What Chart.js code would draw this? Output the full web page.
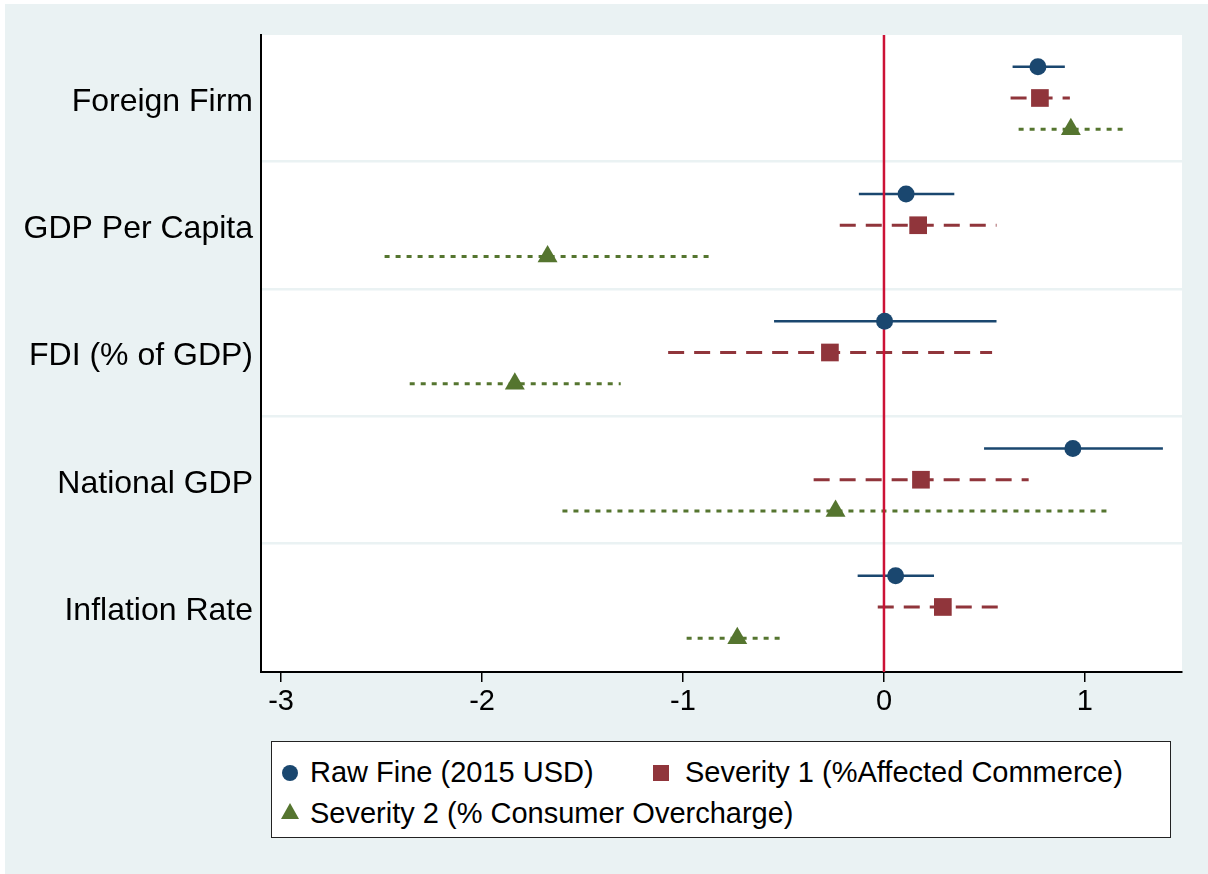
<!DOCTYPE html>
<html lang="en">
<head>
<meta charset="UTF-8">
<title>Coefficient plot</title>
<script src="https://cdn.jsdelivr.net/npm/chart.js"></script>
<style>
  html, body { margin: 0; padding: 0; background: #fff; }
  #wrap { position: relative; width: 1208px; height: 874px; font-family: "Liberation Sans", Arial, Helvetica, sans-serif; }
  #chart { position: absolute; left: 0; top: 0; }
  #legend { position: absolute; left: 271px; top: 741px; width: 900px; height: 97px; box-sizing: border-box;
            border: 1.5px solid #222; background: #fff; }
  .lbl { position: absolute; font-size: 29px; line-height: 34px; color: #000; white-space: nowrap; }
  .mk { position: absolute; }
</style>
</head>
<body>
<div id="wrap">
  <canvas id="chart" width="1208" height="874"></canvas>
  <div id="legend"></div>
</div>

<script>
// categories, top to bottom
const categories = ['Foreign Firm', 'GDP Per Capita', 'FDI (% of GDP)', 'National GDP', 'Inflation Rate'];
const rowPos = [5, 4, 3, 2, 1];
const xTicks = [-3, -2, -1, 0, 1];

const seriesNames = ['Raw Fine (2015 USD)', 'Severity 1 (%Affected Commerce)', 'Severity 2 (% Consumer Overcharge)'];

// point estimates and confidence bounds
const rawFine   = [0.766, 0.11, 0.003, 0.94, 0.058];
const rawFineLo = [0.64, -0.125, -0.547, 0.498, -0.131];
const rawFineHi = [0.90, 0.35, 0.56, 1.388, 0.249];

const sev1   = [0.776, 0.17, -0.269, 0.184, 0.293];
const sev1Lo = [0.63, -0.22, -1.074, -0.35, -0.031];
const sev1Hi = [0.925, 0.56, 0.538, 0.72, 0.577];

const sev2   = [0.93, -1.674, -1.837, -0.241, -0.73];
const sev2Lo = [0.67, -2.485, -2.36, -1.60, -0.982];
const sev2Hi = [1.20, -0.866, -1.31, 1.12, -0.491];

const FONT = '"Liberation Sans", Arial, Helvetica, sans-serif';
const yMin = 0.489, yMax = 5.495;

const series = [
  { est: rawFine, lo: rawFineLo, hi: rawFineHi, off: 0.245, color: '#1a476f', dash: [], width: 2.5, style: 'circle', r: 8.5 },
  { est: sev1, lo: sev1Lo, hi: sev1Hi, off: 0, color: '#90353b', dash: [16, 10], width: 3, style: 'rect', r: 12.5 },
  { est: sev2, lo: sev2Lo, hi: sev2Hi, off: -0.245, color: '#55752f', dash: [5, 6], width: 3, style: 'triangle', r: 11.5 }
];

const datasets = [];
// markers on top
series.forEach((s, k) => {
  datasets.push({
    label: seriesNames[k],
    data: s.est.map((v, i) => ({ x: v, y: rowPos[i] + s.off })),
    pointStyle: s.style,
    pointRadius: s.r,
    pointBackgroundColor: s.color,
    pointBorderColor: s.color,
    pointBorderWidth: 0,
    showLine: false
  });
});
// zero line
datasets.push({
  data: [{ x: 0, y: yMin }, { x: 0, y: yMax }],
  showLine: true, pointRadius: 0, borderColor: '#cc1236', borderWidth: 2.5
});
// confidence intervals
series.forEach(s => {
  s.est.forEach((v, i) => {
    datasets.push({
      data: [{ x: s.lo[i], y: rowPos[i] + s.off }, { x: s.hi[i], y: rowPos[i] + s.off }],
      showLine: true, pointRadius: 0,
      borderColor: s.color, borderWidth: s.width, borderDash: s.dash,
      borderCapStyle: 'butt'
    });
  });
});

const bgPlugin = {
  id: 'bg',
  beforeDraw(chart) {
    const { ctx, chartArea: a } = chart;
    ctx.save();
    ctx.fillStyle = '#eaf2f3';
    ctx.fillRect(5, 4, chart.width - 5, chart.height - 4);
    ctx.fillStyle = '#fff';
    ctx.fillRect(a.left, a.top, a.right - a.left, a.bottom - a.top);
    ctx.restore();
  }
};

new Chart(document.getElementById('chart'), {
  type: 'scatter',
  data: { datasets },
  plugins: [bgPlugin],
  options: {
    responsive: false,
    animation: false,
    layout: { padding: { top: 35, right: 26, left: 0, bottom: 0 } },
    plugins: { legend: { display: false }, tooltip: { enabled: false } },
    scales: {
      x: {
        type: 'linear', min: -3.1, max: 1.483,
        afterBuildTicks: ax => { ax.ticks = xTicks.map(v => ({ value: v })); },
        afterFit: ax => { ax.height = 202; },
        grid: { display: true, drawOnChartArea: false, drawTicks: true, tickLength: 10, color: '#000', lineWidth: 1.5 },
        border: { display: true, color: '#000', width: 2 },
        ticks: { color: '#000', font: { size: 29, family: FONT }, padding: 3, maxRotation: 0, autoSkip: false }
      },
      y: {
        type: 'linear', position: 'left', min: yMin, max: yMax,
        afterBuildTicks: ax => { ax.ticks = rowPos.map(v => ({ value: v })); },
        afterFit: ax => { ax.width = 261; },
        grid: { display: true, drawOnChartArea: false, drawTicks: false },
        border: { display: true, color: '#000', width: 2 },
        ticks: {
          color: '#000', font: { size: 32, family: FONT }, padding: 8, labelOffset: 4, autoSkip: false,
          callback: v => categories[rowPos.indexOf(v)]
        }
      },
      yGrid: {
        type: 'linear', position: 'left', min: yMin, max: yMax,
        afterBuildTicks: ax => { ax.ticks = [1.5, 2.5, 3.5, 4.5].map(v => ({ value: v })); },
        afterFit: ax => { ax.width = 0; },
        grid: { color: '#eaf2f3', lineWidth: 2.5, drawTicks: false },
        border: { display: false },
        ticks: { display: false }
      }
    }
  }
});

// legend box
const legend = document.getElementById('legend');
const legendPos = [
  { x: 18, y: 31, tx: 38 },
  { x: 389, y: 31, tx: 413 },
  { x: 18, y: 72, tx: 38 }
];
series.forEach((s, k) => {
  const p = legendPos[k];
  const m = document.createElement('div');
  m.className = 'mk';
  if (s.style === 'circle') {
    m.style.cssText = `left:${p.x - 8}px;top:${p.y - 8}px;width:16px;height:16px;border-radius:50%;background:${s.color}`;
  } else if (s.style === 'rect') {
    m.style.cssText = `left:${p.x - 8}px;top:${p.y - 8}px;width:16px;height:16px;background:${s.color}`;
  } else {
    m.style.cssText = `left:${p.x - 9}px;top:${p.y - 11}px;width:0;height:0;border-left:9px solid transparent;border-right:9px solid transparent;border-bottom:16px solid ${s.color}`;
  }
  legend.appendChild(m);
  const t = document.createElement('div');
  t.className = 'lbl';
  t.style.left = p.tx + 'px';
  t.style.top = (p.y - 18) + 'px';
  t.textContent = seriesNames[k];
  legend.appendChild(t);
});
</script>
</body>
</html>
